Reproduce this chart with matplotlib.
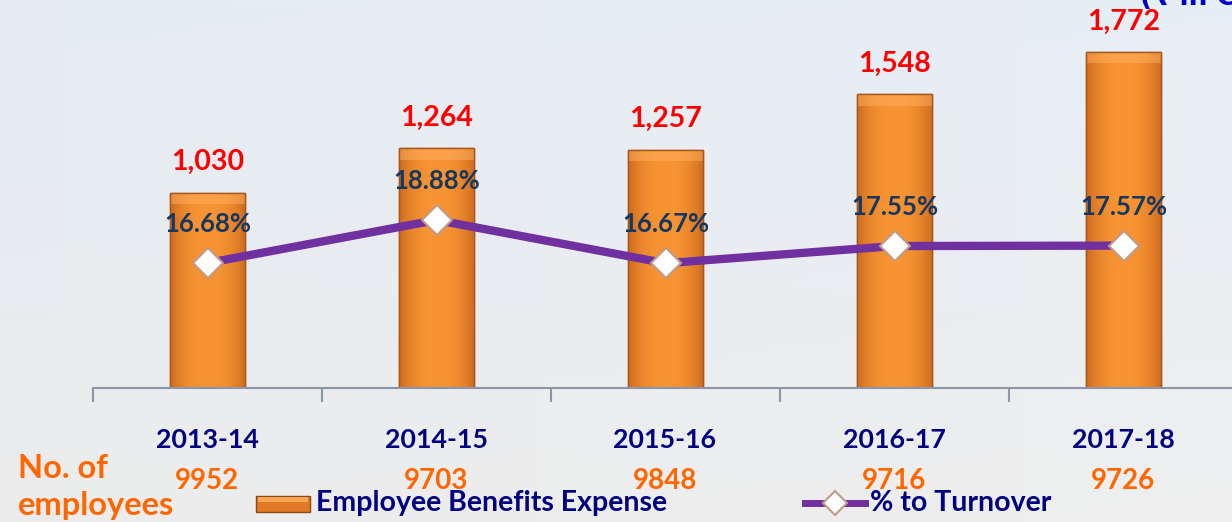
import matplotlib
matplotlib.use("Agg")
import matplotlib.pyplot as plt
import numpy as np
from matplotlib.patches import Rectangle
from matplotlib.lines import Line2D

years = ["2013-14", "2014-15", "2015-16", "2016-17", "2017-18"]
expense = [1030, 1264, 1257, 1548, 1772]
turnover_pct = [16.68, 18.88, 16.67, 17.55, 17.57]
employees = [9952, 9703, 9848, 9716, 9726]

W, H = 1232, 522
FONT = ["Lato", "DejaVu Sans"]
plt.rcParams["font.family"] = FONT
plt.rcParams["font.weight"] = "bold"

fig = plt.figure(figsize=(W / 100, H / 100), dpi=100)

def fx(px):
    return px / W

def fy(py):
    return 1 - py / H

# background
bg = fig.add_axes([0, 0, 1, 1], zorder=-10)
gy = np.linspace(0, 1, 100)[:, None]
gx = np.linspace(0, 1, 200)[None, :]
c_top = np.array([0.90, 0.93, 0.96])
c_bot = np.array([0.93, 0.93, 0.93])
img = c_top[None, None, :] * (1 - gy[..., None]) + c_bot[None, None, :] * gy[..., None]
img = img + 0.01 * (gx[..., None] - 0.5)
img = np.clip(img, 0, 1) * np.ones((100, 200, 3))
bg.imshow(img, aspect="auto", extent=[0, 1, 0, 1])
bg.axis("off")

ax = fig.add_axes([fx(93), fy(388), fx(5 * 229), 388 / H])
ax.set_facecolor("none")
x = np.arange(len(years))
bars = ax.bar(x, expense, width=0.33, color="#F08A2C", edgecolor="#A8561C", linewidth=1.0, zorder=2)

# gradient overlay on bars
grad = np.linspace(0, 1, 64)
prof = 1 - (np.abs(grad - 0.5) * 2) ** 2.5
dark = np.array([0.80, 0.42, 0.12])
light = np.array([0.97, 0.58, 0.20])
gimg = dark[None, :] * (1 - prof[:, None]) + light[None, :] * prof[:, None]
gimg = gimg[None, :, :]
for b in bars:
    bx, by, bw, bh = b.get_x(), b.get_y(), b.get_width(), b.get_height()
    im = ax.imshow(gimg, extent=[bx, bx + bw, by, by + bh], aspect="auto", zorder=2.1)
    im.set_clip_path(b)
    top = Rectangle((bx, by + bh - 60), bw, 60, facecolor="#FFB060", alpha=0.5, edgecolor="none", zorder=2.2)
    ax.add_patch(top)
    top.set_clip_path(b)
    ax.add_patch(Rectangle((bx, by), bw, bh, facecolor="none", edgecolor="#A8561C", linewidth=1.0, zorder=2.3))

ax.set_xlim(-0.5, 4.5)
ax.set_ylim(0, 2046)
ax.set_yticks([])
ax.set_xticks([])
ax.set_xticks(np.arange(-0.5, 5, 1), minor=True)
ax.tick_params(axis="x", which="minor", direction="out", length=10, width=1.5, color="#8C96A8")
for s in ["top", "right", "left"]:
    ax.spines[s].set_visible(False)
ax.spines["bottom"].set_color("#8C96A8")
ax.spines["bottom"].set_linewidth(1.5)

for xi, v in zip(x, expense):
    ax.annotate(f"{v:,}", (xi, v), xytext=(0, 22), textcoords="offset points",
                ha="center", va="center", color="#FF0000", fontsize=20.5, fontweight="bold", zorder=5)

ax2 = ax.twinx()
ax2.set_ylim(10.29, 30.13)
ax2.axis("off")
ax2.plot(x, turnover_pct, color="#7030A0", linewidth=6, zorder=3,
         marker="D", markersize=15, markerfacecolor="white", markeredgecolor="#C09A86",
         markeredgewidth=1.5)
for xi, v in zip(x, turnover_pct):
    ax2.annotate(f"{v:.2f}%", (xi, v), xytext=(0, 28), textcoords="offset points",
                 ha="center", va="center", color="#17375E", fontsize=18.5, fontweight="bold", zorder=5)

# category labels and employees
for xi, yr, emp in zip(x, years, employees):
    px = 207 + xi * 229
    fig.text(fx(px), fy(440), yr, ha="center", va="center", color="#000080", fontsize=19.3, fontweight="bold")
    fig.text(fx(px), fy(481), str(emp), ha="center", va="center", color="#FF6600", fontsize=20, fontweight="bold")

fig.text(fx(18), fy(468), "No. of", ha="left", va="center", color="#FF6600", fontsize=23.5, fontweight="bold")
fig.text(fx(18), fy(505), "employees", ha="left", va="center", color="#FF6600", fontsize=23.5, fontweight="bold")

# legend
lax = fig.add_axes([0, 0, 1, 1], zorder=5)
lax.set_xlim(0, W)
lax.set_ylim(H, 0)
lax.axis("off")
lax.add_patch(Rectangle((256, 496), 54, 16, facecolor="#E07A26", edgecolor="#8A4A18", linewidth=1))
lax.add_patch(Rectangle((258, 497), 50, 5, facecolor="#FFB060", edgecolor="none", alpha=0.8))
lax.text(316, 503, "Employee Benefits Expense", ha="left", va="center", color="#000080", fontsize=20.5, fontweight="bold")
lax.add_line(Line2D([805, 865], [503, 503], color="#7030A0", linewidth=5))
lax.plot([835], [503], marker="D", markersize=12, markerfacecolor="white", markeredgecolor="#C09A86", markeredgewidth=1.5)
lax.text(870, 503, "% to Turnover", ha="left", va="center", color="#000080", fontsize=20.5, fontweight="bold")

lax.text(1140, -2, "(₹ in Crore)", ha="left", va="center", color="#0000CC", fontsize=19, fontweight="bold",
         family=["DejaVu Sans", "Noto Sans"], clip_on=False)

fig.savefig("out.png", dpi=100)
